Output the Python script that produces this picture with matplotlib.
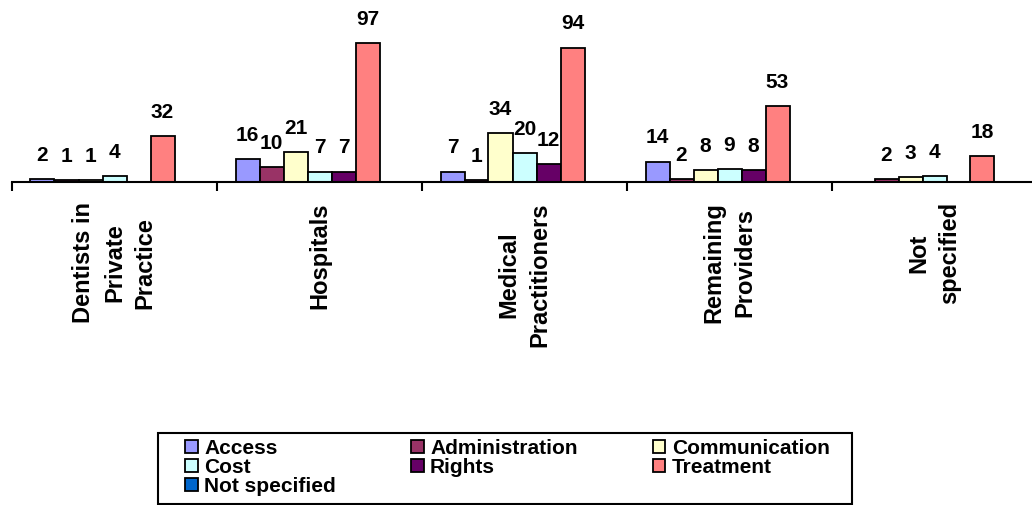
import numpy as np
import matplotlib
matplotlib.use("Agg")
import matplotlib.pyplot as plt
from matplotlib.patches import Patch, Rectangle

plt.rcParams['font.family'] = ['Liberation Sans', 'DejaVu Sans']
plt.rcParams['font.weight'] = 'bold'

# Complaint counts by provider type
providers = ["Dentists in\nPrivate\nPractice", "Hospitals", "Medical\nPractitioners",
             "Remaining\nProviders", "Not\nspecified"]
series = ["Access", "Administration", "Communication", "Cost", "Rights",
          "Treatment", "Not specified"]
access = [2, 16, 7, 14, 0]
administration = [1, 10, 1, 2, 2]
communication = [1, 21, 34, 8, 3]
cost = [4, 7, 20, 9, 4]
rights = [0, 7, 12, 8, 0]
treatment = [32, 97, 94, 53, 18]
not_specified = [0, 0, 0, 0, 0]
colors = ["#9999FF", "#993366", "#FFFFCC", "#CCFFFF", "#660066", "#FF8080", "#0066CC"]

values = [access, administration, communication, cost, rights, treatment, not_specified]

W, H = 1032, 505
fig = plt.figure(figsize=(W / 100, H / 100), dpi=100)
base_px = 181.5
px_per_unit = 1.425
ax = fig.add_axes([12 / W, (H - base_px) / H, 1025 / W, base_px / H])

bw = 24 / 205
margin = (1 - 7 * bw) / 2
for j, (vals, col) in enumerate(zip(values, colors)):
    for i, v in enumerate(vals):
        if v <= 0:
            continue
        x = i + margin + (j + 0.5) * bw
        ax.bar(x, v, width=bw, color=col, edgecolor="black", linewidth=1.3, zorder=2)
        ax.annotate(str(v), (x, v), xytext=(0, 13), textcoords="offset points",
                    ha="center", va="baseline", fontsize=15, fontweight="bold",
                    annotation_clip=False)

ax.set_xlim(0, len(providers))
ax.set_ylim(0, base_px / px_per_unit)
for s in ["top", "left", "right"]:
    ax.spines[s].set_visible(False)
ax.spines["bottom"].set_linewidth(1.5)
ax.spines["bottom"].set_zorder(3)
ax.set_yticks([])

# group separators as ticks, labels at group centres
ax.set_xticks(np.arange(len(providers) + 1), minor=True)
ax.tick_params(axis="x", which="minor", length=6.5, width=1.5, direction="out")
ax.set_xticks(np.arange(len(providers)) + 0.5)
ax.set_xticklabels(providers, rotation=90, fontsize=17, fontweight="bold",
                   multialignment="center", linespacing=1.42)
ax.tick_params(axis="x", which="major", length=0, pad=15)

# legend, filled row by row
order = [0, 3, 6, 1, 4, 2, 5]
handles = [Patch(facecolor=colors[k], edgecolor="black", linewidth=1.3, label=series[k])
           for k in order]
fig.legend(handles=handles, ncol=3, loc="upper left", frameon=False,
           bbox_to_anchor=(185 / W, 1 - 439 / H), bbox_transform=fig.transFigure,
           prop={"size": 15, "weight": "bold"}, handlelength=0.62, handleheight=0.62,
           handletextpad=0.3, columnspacing=3.6, labelspacing=0.0,
           borderpad=0, borderaxespad=0)
fig.patches.append(Rectangle((158 / W, 1 - 504 / H), 694 / W, 71 / H,
                             transform=fig.transFigure, fill=False,
                             edgecolor="black", linewidth=1.5))

fig.savefig("out.png", dpi=100)
